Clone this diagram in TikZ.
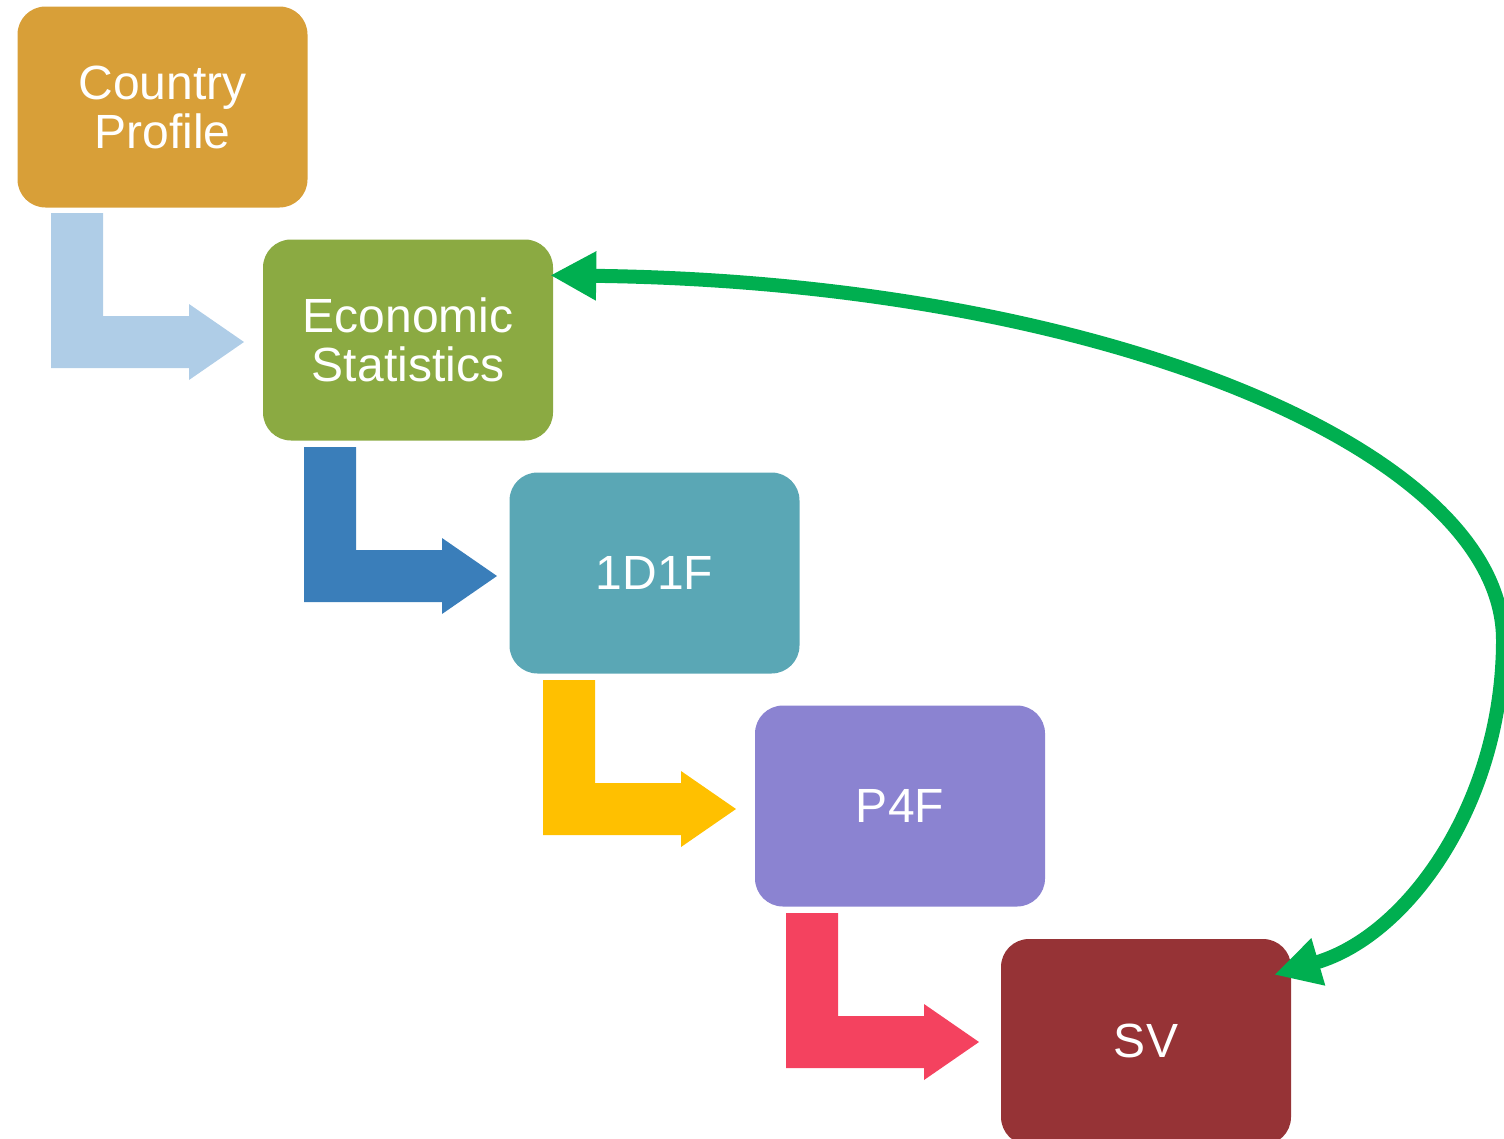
\documentclass[tikz,border=0pt]{standalone}
\usepackage{fontspec}
\setmainfont{Liberation Sans}
\usetikzlibrary{arrows.meta,calc}
\definecolor{cpC}{HTML}{D89F38}
\definecolor{esC}{HTML}{8BAA42}
\definecolor{odC}{HTML}{5AA7B5}
\definecolor{pfC}{HTML}{8B83D1}
\definecolor{svC}{HTML}{963336}
\definecolor{lbC}{HTML}{AFCDE7}
\definecolor{blC}{HTML}{3A7EBA}
\definecolor{ylC}{HTML}{FFC000}
\definecolor{rdC}{HTML}{F4425F}
\definecolor{grC}{HTML}{00AF50}
\newcommand\bentarr[3]{\fill[#1] (#2,#3) -- ++(52,0) -- ++(0,103) -- ++(86,0) -- ++(0,-12) -- ++(55,38) -- ++(-55,38) -- ++(0,-12) -- ++(-138,0) -- cycle;}
\tikzset{
  stepbox/.style={fill=#1, draw=none, rounded corners=28pt, minimum width=290pt, minimum height=201pt,
    text=white, align=center, font=\fontsize{48}{49}\selectfont, inner sep=0pt, text depth=0pt},
  greenarr/.style={draw=grC, line width=14pt,
    {Triangle[length=46pt,width=46pt]}-{Triangle[length=46pt,width=46pt]}}
}
\begin{document}
\begin{tikzpicture}[x=1pt,y=-1pt]
\useasboundingbox (0,0) rectangle (1504,1138);
\node[stepbox=cpC] (cp) at (162.5,107) {Country\\Profile};
\node[stepbox=esC] (es) at (408,340) {Economic\\Statistics};
\node[stepbox=odC] (od) at (654.5,573) {1D1F};
\node[stepbox=pfC] (pf) at (900,806) {P4F};
\node[stepbox=svC, minimum height=206pt] (sv) at (1146,1042) {\raisebox{3pt}{SV}};
\bentarr{lbC}{51}{213}
\bentarr{blC}{304}{447}
\bentarr{ylC}{543}{680}
\bentarr{rdC}{786}{913}
\coordinate (gA) at ($(es.north east)+(-3,36)$);
\coordinate (gB) at ($(sv.north east)+(-17,36)$);
\draw[greenarr] (gA) .. controls (1100,282) and (1503,450) .. (1503,640) .. controls (1503,800) and (1410,935) .. (gB);
\end{tikzpicture}
\end{document}
